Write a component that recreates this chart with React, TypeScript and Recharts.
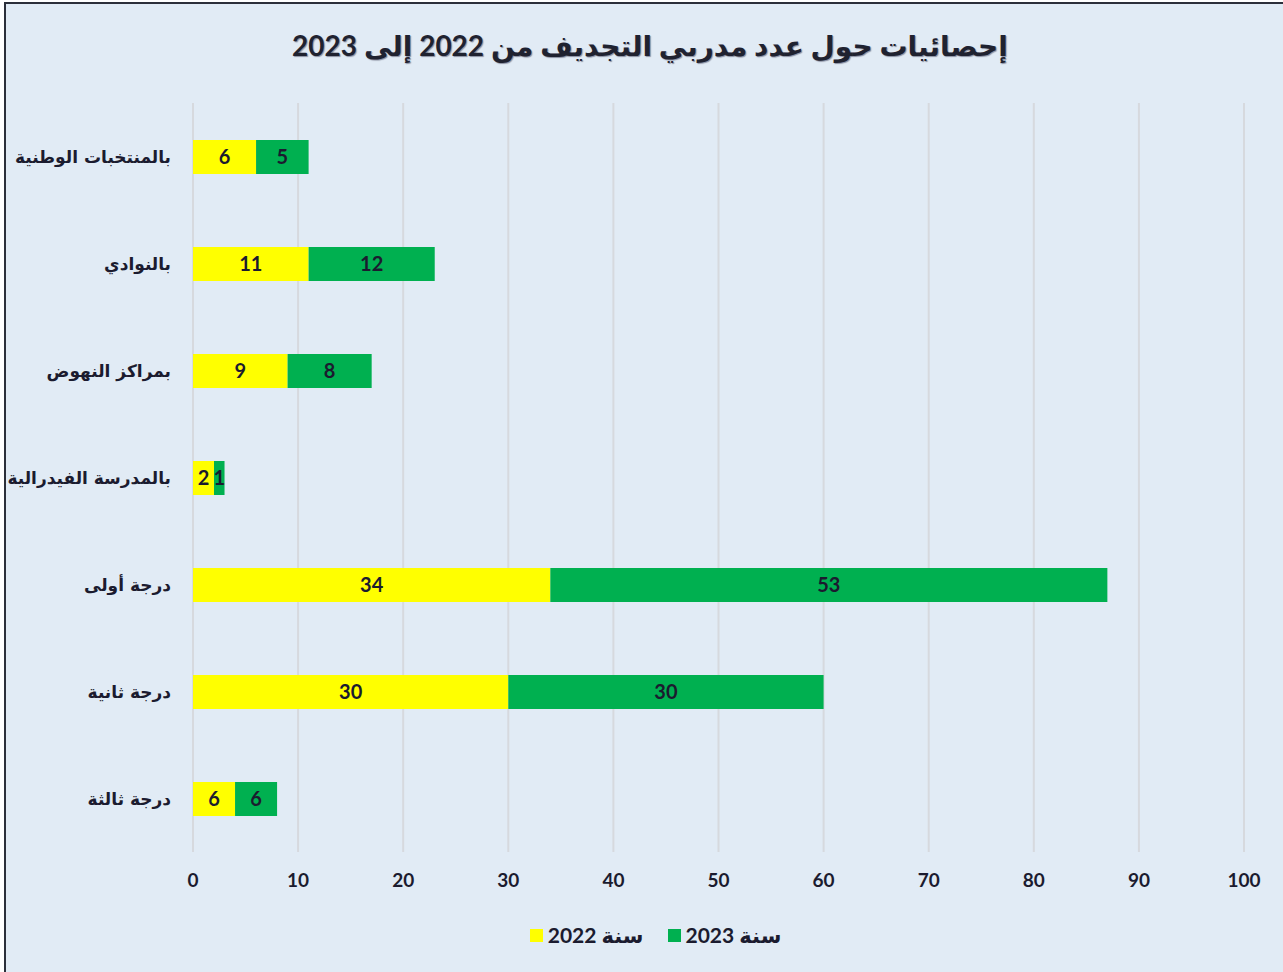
import {
  BarChart,
  Bar,
  XAxis,
  YAxis,
  CartesianGrid,
  LabelList,
  Legend,
} from "recharts";

const categories = [
  "بالمنتخبات الوطنية",
  "بالنوادي",
  "بمراكز  النهوض",
  "بالمدرسة الفيدرالية",
  "درجة أولى",
  "درجة ثانية",
  "درجة ثالثة",
];
// bar lengths as drawn in the picture
const values2022 = [6, 11, 9, 2, 34, 30, 4];
const values2023 = [5, 12, 8, 1, 53, 30, 4];
// printed labels (last row prints 6/6 on bars drawn as 4/4)
const labels2022 = [6, 11, 9, 2, 34, 30, 6];
const labels2023 = [5, 12, 8, 1, 53, 30, 6];
const xTicks = [0, 10, 20, 30, 40, 50, 60, 70, 80, 90, 100];

const data = categories.map((name, i) => ({
  name,
  y2022: values2022[i],
  y2023: values2023[i],
  l2022: labels2022[i],
  l2023: labels2023[i],
}));

const FONT = "Lato, 'DejaVu Sans', sans-serif";
const INK = "#1B1B2F";

const LegendContent = ({ payload }: any) => (
  <div
    style={{
      display: "flex",
      justifyContent: "center",
      gap: 24,
      fontFamily: FONT,
      fontWeight: 700,
      fontSize: 21,
      color: INK,
      paddingLeft: 28,
    }}
  >
    {(payload || []).map((p: any) => (
      <div key={p.value} style={{ display: "flex", alignItems: "center", gap: 5 }}>
        <span style={{ width: 13, height: 13, background: p.color, display: "inline-block" }} />
        <span>{p.value}</span>
      </div>
    ))}
  </div>
);

export default function App() {
  return (
    <div
      style={{
        position: "absolute",
        left: 0,
        top: 0,
        width: 1279,
        height: 970,
        background: "#E1EBF5",
        boxSizing: "border-box",
        borderLeft: "2px solid #2B2F3A",
        borderTop: "2px solid #2B2F3A",
        marginLeft: 4,
        marginTop: 2,
      }}
    >
      <div
        dir="rtl"
        style={{
          position: "absolute",
          top: 24,
          left: -6,
          width: 1300,
          textAlign: "center",
          fontFamily: FONT,
          fontWeight: 700,
          fontSize: 28,
          color: "#1F2230",
          textShadow: "1px 1px 1px #8A8FA0",
        }}
      >
        إحصائيات حول عدد مدربي  التجديف من 2022 إلى 2023
      </div>
      <div style={{ position: "absolute", left: -6, top: -4 }}>
        <BarChart
          width={1283}
          height={972}
          layout="vertical"
          data={data}
          barSize={34}
          margin={{ top: 103, right: 39, bottom: 90, left: 5 }}
        >
          <CartesianGrid horizontal={false} stroke="#D6D9DE" strokeWidth={2} />
          <XAxis
            type="number"
            domain={[0, 100]}
            ticks={xTicks}
            interval={0}
            axisLine={false}
            tickLine={false}
            tickMargin={16}
            height={30}
            tick={{ fontSize: 19, fontWeight: 700, fill: INK, fontFamily: FONT }}
          />
          <YAxis
            type="category"
            dataKey="name"
            width={188}
            axisLine={false}
            tickLine={false}
            tickMargin={16}
            tick={{ fontSize: 17, fontWeight: 700, fill: INK, fontFamily: "'DejaVu Sans', sans-serif" }}
          />
          <Legend
            layout="horizontal"
            verticalAlign="middle"
            align="center"
            wrapperStyle={{ top: 922, left: 0, width: 1283 }}
            content={<LegendContent />}
          />
          <Bar dataKey="y2022" name="سنة 2022" stackId="a" fill="#FFFF00" isAnimationActive={false}>
            <LabelList
              dataKey="l2022"
              position="center"
              style={{ fontSize: 20, fontWeight: 700, fill: INK, fontFamily: FONT }}
            />
          </Bar>
          <Bar dataKey="y2023" name="سنة 2023" stackId="a" fill="#00B050" isAnimationActive={false}>
            <LabelList
              dataKey="l2023"
              position="center"
              style={{ fontSize: 20, fontWeight: 700, fill: INK, fontFamily: FONT }}
            />
          </Bar>
        </BarChart>
      </div>
    </div>
  );
}
